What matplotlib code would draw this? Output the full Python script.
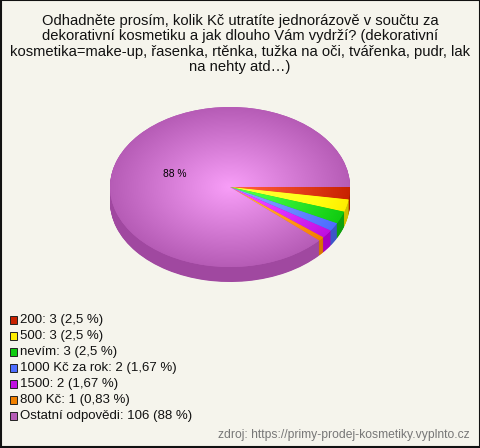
import numpy as np
import matplotlib
matplotlib.use("Agg")
import matplotlib.pyplot as plt
from matplotlib.patches import Rectangle

plt.rcParams['font.family'] = ['Liberation Sans', 'DejaVu Sans']

title = ("Odhadněte prosím, kolik Kč utratíte jednorázově v součtu za\n"
         "dekorativní kosmetiku a jak dlouho Vám vydrží? (dekorativní\n"
         "kosmetika=make-up, řasenka, rtěnka, tužka na oči, tvářenka, pudr, lak\n"
         "na nehty atd…)")
labels = ["200: 3 (2,5 %)", "500: 3 (2,5 %)", "nevím: 3 (2,5 %)",
          "1000 Kč za rok: 2 (1,67 %)", "1500: 2 (1,67 %)",
          "800 Kč: 1 (0,83 %)", "Ostatní odpovědi: 106 (88 %)"]
values = [3, 3, 3, 2, 2, 1, 106]
colors = ["#c82200", "#ffee00", "#11cc11", "#4d6dff", "#c010e0", "#f08000", "#b65cb6"]
side_colors = ["#a01c00", "#d0c000", "#0ea00e", "#3c56c8", "#a800c0", "#d87400", "#a048a0"]
source = "zdroj: https://primy-prodej-kosmetiky.vyplnto.cz"

W, H = 480, 448
BG = "#f5f4ec"
fig = plt.figure(figsize=(W / 100, H / 100), dpi=100, facecolor=BG)

# pixel overlay for text, legend and border
bg = fig.add_axes([0, 0, 1, 1], zorder=2)
bg.set_xlim(0, W)
bg.set_ylim(H, 0)
bg.axis("off")
bg.add_patch(Rectangle((0.5, 0.5), W - 1, H - 1, fill=False, ec="#111111", lw=1.5))

bg.text(240, 44, title, ha="center", va="center", fontsize=10.65, color="#111111",
        linespacing=1.13)
bg.text(175, 174, "88 %", ha="center", va="center", fontsize=7.4, color="black")

for i, lab in enumerate(labels):
    y = 320 + i * 16
    bg.add_patch(Rectangle((9.5, y - 4), 7, 8, fc=colors[i], ec="#222222", lw=0.7))
    bg.text(20, y, lab, ha="left", va="center", fontsize=9.55, color="#111111")
bg.text(470, 435, source, ha="right", va="center", fontsize=8.72, color="#777777")

# pie box
cx, cy, rx, ry, depth = 230, 187, 120, 80, 15
ax = fig.add_axes([(cx - rx) / W, 1 - (cy + ry) / H, 2 * rx / W, 2 * ry / H], zorder=1)
ax.patch.set_alpha(0)

# side of the pie: stacked copies shifted down
for d in np.arange(depth, 0, -0.5):
    ax.pie(values, colors=side_colors, startangle=0, counterclock=False, radius=1,
           center=(0, -d / ry), wedgeprops={"clip_on": False, "lw": 0})

wedges, _ = ax.pie(values, colors=colors, startangle=0, counterclock=False, radius=1,
                   center=(0, 0), wedgeprops={"clip_on": False, "lw": 0})

# radial shading of the top face
yy, xx = np.mgrid[1:-1:200j, -1:1:300j]
rr = np.clip(np.hypot(xx, yy), 0, 1)
for w, c in zip(wedges, colors):
    base = np.array(matplotlib.colors.to_rgb(c))
    img = np.clip(base + 0.26 * (1 - rr)[..., None], 0, 1)
    im = ax.imshow(img, extent=(-1, 1, -1, 1), aspect="auto", zorder=3, interpolation="bilinear")
    im.set_clip_path(w)
ax.set_xlim(-1, 1)
ax.set_ylim(-1, 1)
ax.set_aspect("auto")

fig.savefig("out.png", dpi=100, facecolor=BG)
